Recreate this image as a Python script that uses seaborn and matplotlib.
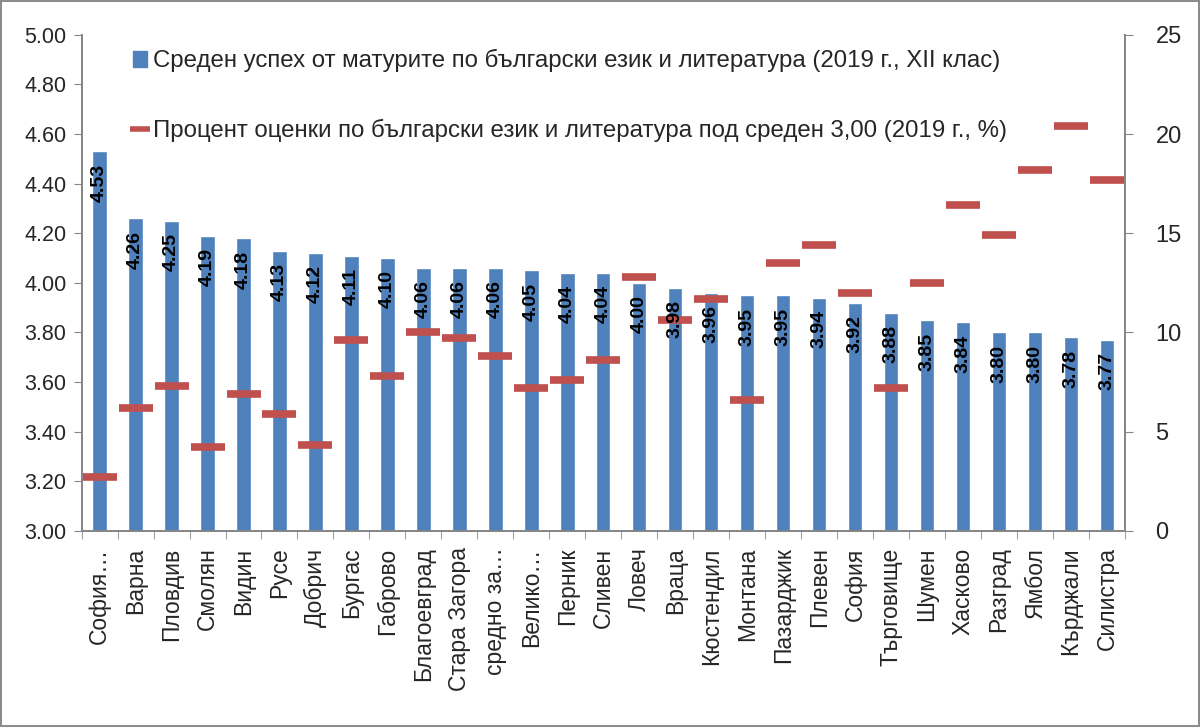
import numpy as np
import pandas as pd
import seaborn as sns
import matplotlib.pyplot as plt
from matplotlib.patches import Patch
from matplotlib.lines import Line2D
from matplotlib.ticker import FixedLocator

regions = ['София…', 'Варна', 'Пловдив', 'Смолян', 'Видин', 'Русе', 'Добрич', 'Бургас',
           'Габрово', 'Благоевград', 'Стара Загора', 'средно за…', 'Велико…', 'Перник',
           'Сливен', 'Ловеч', 'Враца', 'Кюстендил', 'Монтана', 'Пазарджик', 'Плевен',
           'София', 'Търговище', 'Шумен', 'Хасково', 'Разград', 'Ямбол', 'Кърджали', 'Силистра']
avg_grade = [4.53, 4.26, 4.25, 4.19, 4.18, 4.13, 4.12, 4.11, 4.10, 4.06, 4.06, 4.06, 4.05, 4.04,
             4.04, 4.00, 3.98, 3.96, 3.95, 3.95, 3.94, 3.92, 3.88, 3.85, 3.84, 3.80, 3.80, 3.78, 3.77]
pct_below3 = [2.7, 6.2, 7.3, 4.2, 6.9, 5.9, 4.3, 9.6, 7.8, 10.0, 9.7, 8.8, 7.2, 7.6,
              8.6, 12.8, 10.6, 11.7, 6.6, 13.5, 14.4, 12.0, 7.2, 12.5, 16.4, 14.9, 18.2, 20.4, 17.7]

label_bar = 'Среден успех от матурите по български език и литература (2019 г., XII клас)'
label_pct = 'Процент оценки по български език и литература под среден 3,00 (2019 г., %)'

df = pd.DataFrame({'region': regions, 'grade': avg_grade, 'pct': pct_below3})

sns.set_style('white')
plt.rcParams['font.family'] = ['Liberation Sans', 'DejaVu Sans']

blue = '#4F81BD'
red = '#C0504D'
axis_gray = '#868686'

fig = plt.figure(figsize=(12, 7.27), dpi=100)
ax = fig.add_axes([0.068, 0.27, 0.8695, 0.682])
fig.patch.set_edgecolor('#8c8c8c')
fig.patch.set_linewidth(1.5)

sns.barplot(data=df, x='region', y='grade', color=blue, width=0.4, ax=ax,
            saturation=1, bottom=0)
ax.set_ylim(3.0, 5.0)
ax.set_xlim(-0.5, len(regions) - 0.5)
ax.set_xlabel('')
ax.set_ylabel('')
ax.set_yticks(np.arange(3.0, 5.01, 0.2))
ax.set_yticklabels([f'{v:.2f}' for v in np.arange(3.0, 5.01, 0.2)], fontsize=15.5)
ax.set_xticks(range(len(regions)))
ax.set_xticklabels(regions, rotation=90, fontsize=16.5)
ax.tick_params(axis='x', which='major', length=0, pad=12)
ax.xaxis.set_minor_locator(FixedLocator(np.arange(-0.5, len(regions), 1)))
ax.tick_params(axis='x', which='minor', length=6, color=axis_gray, direction='out', bottom=True)
ax.tick_params(axis='y', length=6, color=axis_gray, direction='out', left=True, pad=5)

ax2 = ax.twinx()
ax2.plot(range(len(regions)), pct_below3, ls='none', marker='_', ms=25, mew=5.5, color=red)
ax2.set_ylim(0, 25)
ax2.set_yticks(range(0, 26, 5))
ax2.tick_params(axis='y', labelsize=17, length=6, color=axis_gray, direction='out', right=True, pad=16)

# value labels drawn on the top axes so they sit over the red dashes
for i, v in enumerate(avg_grade):
    ax2.text(i, v - 0.05, f'{v:.2f}', rotation=90, ha='center', va='top', transform=ax.transData,
             fontsize=14, fontweight='bold', color='black', zorder=5)

for a in (ax, ax2):
    a.spines['top'].set_visible(False)
    for s in ('left', 'right', 'bottom'):
        a.spines[s].set_color(axis_gray)
        a.spines[s].set_linewidth(1.3)

handles = [Patch(facecolor=blue, edgecolor=blue),
           Line2D([], [], ls='none', marker='_', ms=15, mew=4, color=red)]
ax2.legend(handles, [label_bar, label_pct], loc='upper left', bbox_to_anchor=(0.035, 1.0),
           frameon=False, fontsize=17.3, labelspacing=1.95, handlelength=0.6, handletextpad=0.25,
           borderaxespad=0.2)

fig.savefig('out.png', dpi=100)
